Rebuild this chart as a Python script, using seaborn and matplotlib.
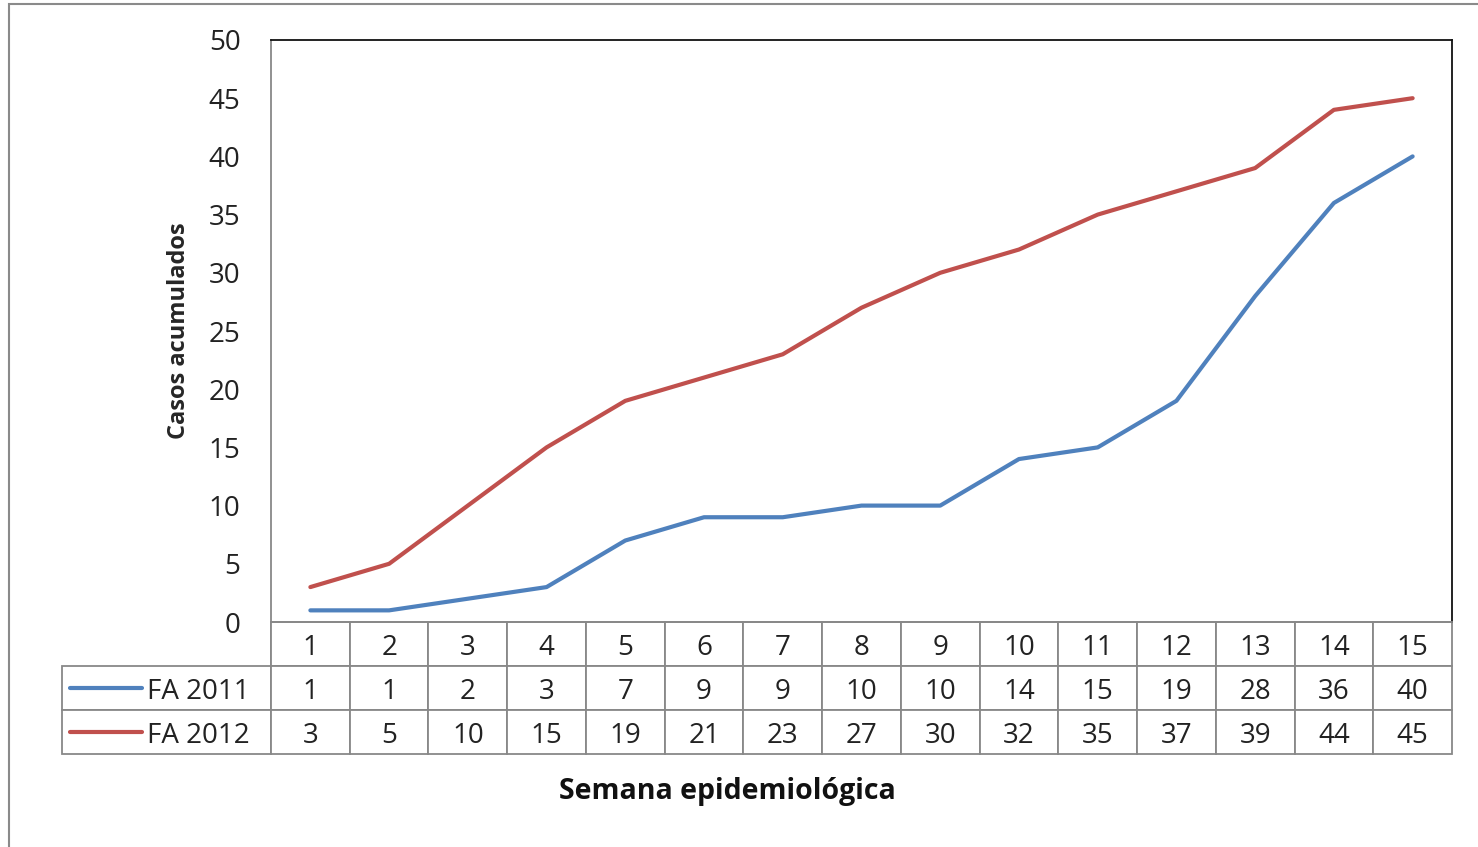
import matplotlib
matplotlib.use('Agg')
import matplotlib.pyplot as plt
import seaborn as sns
import pandas as pd
from matplotlib.lines import Line2D
from matplotlib.patches import Rectangle

# data
semanas = list(range(1, 16))
fa_2011 = [1, 1, 2, 3, 7, 9, 9, 10, 10, 14, 15, 19, 28, 36, 40]
fa_2012 = [3, 5, 10, 15, 19, 21, 23, 27, 30, 32, 35, 37, 39, 44, 45]
series_names = ['FA 2011', 'FA 2012']
colors = ['#4F81BD', '#C0504D']
y_ticks = list(range(0, 55, 5))

df = pd.DataFrame({'semana': semanas * 2,
                   'casos': fa_2011 + fa_2012,
                   'serie': [series_names[0]] * 15 + [series_names[1]] * 15})

sns.set_style('white')
plt.rcParams['font.family'] = ['Open Sans', 'DejaVu Sans']

W, H = 1478, 847
fig = plt.figure(figsize=(W / 100, H / 100), dpi=100)
L, R, T, B = 271, 1452, 40, 622
ax = fig.add_axes([L / W, 1 - B / H, (R - L) / W, (B - T) / H])

# outer chart frame
fig.patches.append(Rectangle((9 / W, -0.1), 1.2, 1 - 4 / H + 0.1, transform=fig.transFigure,
                             fill=False, edgecolor='#8a8a8a', linewidth=1.5))

sns.lineplot(data=df, x='semana', y='casos', hue='serie', palette=colors,
             linewidth=3.0, ax=ax, legend=False)
ax.set_xlim(0.5, 15.5)
ax.set_ylim(0, 50)
ax.set_yticks(y_ticks)
ax.set_yticklabels([str(v) for v in y_ticks], fontsize=20, color='#222222')
ax.tick_params(axis='y', length=0, pad=22)
ax.set_xticks([])
ax.set_xlabel('')
ax.set_ylabel('Casos acumulados', fontsize=17, fontweight='bold')
ax.yaxis.set_label_coords(-0.068, 0.5)
for s in ['top', 'right']:
    ax.spines[s].set_color('#111111')
    ax.spines[s].set_linewidth(1.3)
for s in ['left', 'bottom']:
    ax.spines[s].set_color('#888888')
    ax.spines[s].set_linewidth(1.3)

# data table under the plot (first column holds the legend keys)
cell_text = [[''] + [str(s) for s in semanas],
             [''] + [str(v) for v in fa_2011],
             [''] + [str(v) for v in fa_2012]]
row_h = 44
lab_w = L - 62
col_w = (R - L) / 15
tab = ax.table(cellText=cell_text, cellLoc='center',
               colWidths=[lab_w] + [col_w] * 15,
               bbox=[-lab_w / (R - L), -3 * row_h / (B - T), 1 + lab_w / (R - L), 3 * row_h / (B - T)])
tab.auto_set_font_size(False)
for (r, c), cell in tab.get_celld().items():
    cell.set_edgecolor('#888888')
    cell.set_linewidth(1.3)
    cell.get_text().set_fontsize(20)
    cell.get_text().set_color('#222222')
    cell.get_text().set_va('center_baseline')
tab[(0, 0)].visible_edges = 'R'

# legend keys + series names in the first column
for i, name in enumerate(series_names):
    yc = -(i + 1.5) * row_h / (B - T)
    ax.add_line(Line2D([(70 - L) / (R - L), (142 - L) / (R - L)], [yc, yc], transform=ax.transAxes,
                       color=colors[i], linewidth=3.0, clip_on=False))
    ax.text((147 - L) / (R - L), yc, name, transform=ax.transAxes, fontsize=20,
            color='#222222', va='center_baseline', ha='left')

fig.text(727 / W, 1 - 791 / H, 'Semana epidemiológica', ha='center', va='center',
         fontsize=20.5, fontweight='bold', color='#111111')

fig.savefig('out.png', dpi=100)
